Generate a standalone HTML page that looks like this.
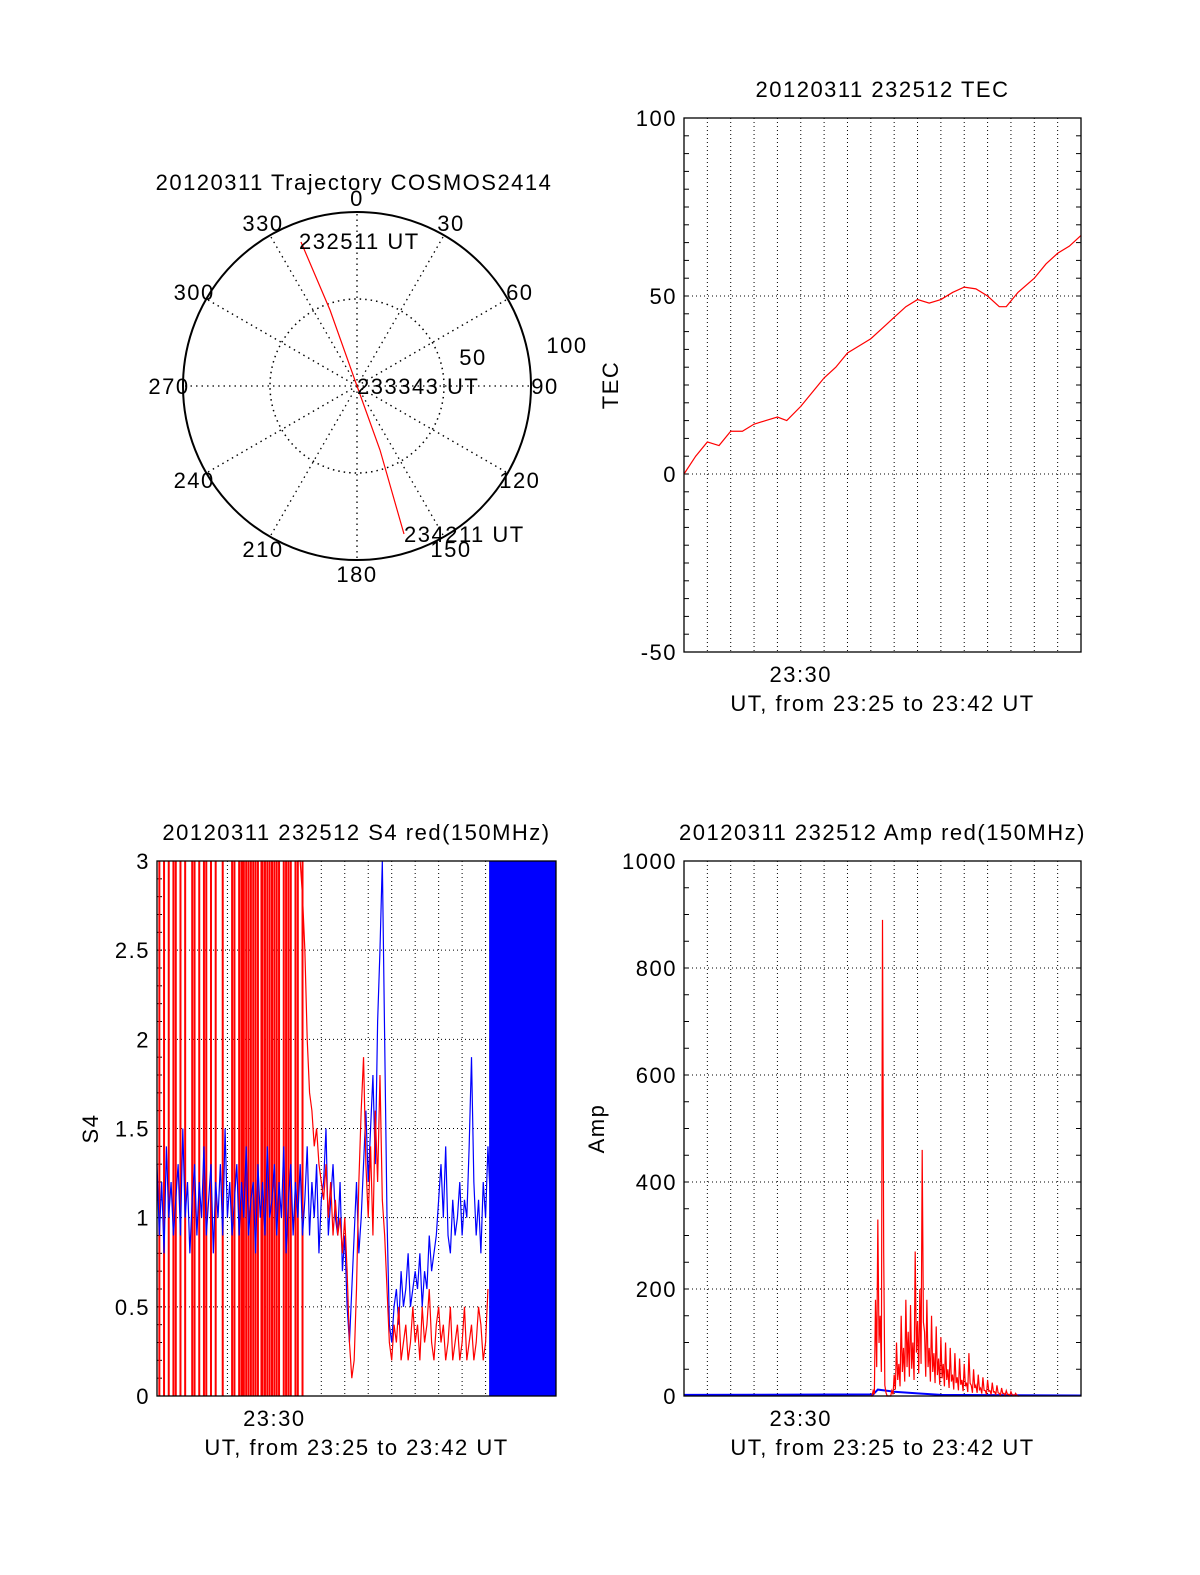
<!DOCTYPE html>
<html><head><meta charset="utf-8"><style>
html,body{margin:0;padding:0;background:#fff;overflow:hidden;width:1200px;height:1575px}
svg{display:block}
svg text{font-family:"Liberation Sans",sans-serif;fill:#000;letter-spacing:1.5px}
</style></head><body>
<svg id="fig" width="1200" height="1575" xmlns="http://www.w3.org/2000/svg">
<rect width="1200" height="1575" fill="#fff"/>
<g id="polar"></g>
<g id="tec"></g>
<g id="s4"></g>
<g id="amp"></g>
</svg>
<script>
// ---- data ----
const tecT=[0,0.5,1,1.5,2,2.5,3,3.5,4,4.4,5,5.5,6,6.5,7,7.5,8,8.5,9,9.5,10,10.5,11,11.5,12,12.5,13,13.5,13.8,14.3,15,15.5,16,16.5,17];
const tecV=[0,5,9,8,12,12,14,15,16,15,19,23,27,30,34,36,38,41,44,47,49,48,49,51,52.5,52,50,47,47,51,55,59,62,64,67];
const tecTicks=[-50,0,50,100];
const s4Ticks=[0,0.5,1,1.5,2,2.5,3];
const s4TickLabels=["0","0.5","1","1.5","2","2.5","3"];
const ampTicks=[0,200,400,600,800,1000];
const s4BlueStart=0, s4Step=0.1;
const s4Blue=[1.3,0.9,1.2,0.8,1.4,1.0,1.2,0.9,1.1,1.3,0.9,1.5,1.0,1.2,0.8,1.1,1.3,0.9,1.2,1.0,1.4,0.9,1.1,1.3,0.8,1.2,1.0,1.3,0.9,1.5,1.0,1.2,0.9,1.1,1.3,0.9,1.2,1.0,1.4,0.9,1.1,1.2,0.8,1.3,1.0,1.2,0.9,1.4,1.0,1.1,1.3,0.9,1.2,1.0,1.4,0.8,1.1,1.3,0.9,1.2,1.0,1.3,0.9,1.1,1.4,0.9,1.2,1.0,1.3,0.8,1.1,1.2,1.5,0.9,1.1,1.3,1.0,0.9,1.2,0.7,0.9,
0.5,0.3,0.6,0.9,1.2,0.8,1.0,1.3,1.6,1.2,
1.5,1.8,1.3,2.1,2.5,3.0,2.0,1.0,0.4,0.3,
0.5,0.6,0.4,0.7,0.5,0.6,0.8,0.5,0.6,0.7,
0.6,0.8,0.5,0.7,0.6,0.9,0.7,0.8,0.9,1.1,
1.3,1.0,1.4,0.9,0.8,1.1,0.9,1.0,1.2,0.9,
1.1,1.0,1.4,1.9,1.2,0.9,1.1,0.8,1.2,1.0,1.4,1.1];
const s4RedSpikes=[0.1,0.3,0.5,0.7,0.8,1.0,1.2,1.5,1.6,1.8,2.0,2.1,2.3,2.5,2.8,3.2,3.3,3.5,3.6,3.65,3.7,3.8,3.9,4.0,4.1,4.2,4.3,4.45,4.5,4.6,4.7,4.8,4.9,5.0,5.1,5.2,5.4,5.5,5.6,5.7,5.9,6.0,6.2];
const s4RedStart=6.0;
const s4Red=[3,3,2.8,2.5,2.0,1.7,1.6,1.4,1.5,1.3,1.2,1.1,1.3,1.0,1.2,0.9,1.1,0.9,1.0,0.8,1.0,0.7,0.3,0.1,0.2,0.6,1.2,1.6,1.9,1.3,1.0,1.4,0.9,1.6,1.2,1.8,1.1,0.9,0.6,0.3,0.2,0.4,0.3,0.5,0.2,0.3,0.4,0.2,0.3,0.5,0.3,0.4,0.2,0.5,0.3,0.4,0.6,0.3,0.2,0.4,0.5,0.3,0.4,0.2,0.3,0.5,0.2,0.3,0.4,0.2,0.3,0.5,0.2,0.3,0.4,0.2,0.3,0.5,0.4,0.2,0.3,0.6];
const s4BlueBand=[14.15,17];
const ampRedStart=8.0;
const ampRed=[0,10,180,330,150,890,20,0,0,10,40,100,60,150,90,180,120,170,100,270,140,200,460,120,180,90,150,80,130,70,110,60,100,50,90,40,80,35,70,30,60,25,80,20,50,20,40,15,35,10,30,10,25,8,20,5,15,5,10,3,8,2,5,0];
const ampBlueT=[0,8.1,8.3,9.0,10.0,11.0,17];
const ampBlueV=[2,3,12,8,5,2,1];

const NS="http://www.w3.org/2000/svg";
function el(parent,tag,attrs,name,txt){const e=document.createElementNS(NS,tag);for(const k in attrs)e.setAttribute(k,attrs[k]);


if(txt!==undefined)e.textContent=txt;parent.appendChild(e);return e;}

// ---- polar ----
(function(){
const g=document.getElementById('polar');const cx=357,cy=386,R=174;
el(g,'text',{x:354,y:190,'font-size':22,'text-anchor':'middle'},'polar-title','20120311 Trajectory COSMOS2414');
el(g,'circle',{cx,cy,r:R,fill:'none',stroke:'#000','stroke-width':2},'outer-circle');
el(g,'circle',{cx,cy,r:R/2,fill:'none',stroke:'#000','stroke-width':1.5,'stroke-dasharray':'1.5 4'},'inner-circle');
for(let a=0;a<360;a+=30){const r=a*Math.PI/180;
el(g,'line',{x1:cx,y1:cy,x2:cx+R*Math.sin(r),y2:cy-R*Math.cos(r),stroke:'#000','stroke-width':1.3,'stroke-dasharray':'1.5 4'},'spoke-'+a);
const lr=R+14;el(g,'text',{x:cx+lr*Math.sin(r),y:cy-lr*Math.cos(r)+8,'font-size':22,'text-anchor':'middle'},'azimuth-label-'+a,String(a));}
el(g,'text',{x:473,y:365,'font-size':22,'text-anchor':'middle'},'radius-label-50','50');
el(g,'text',{x:567,y:353,'font-size':22,'text-anchor':'middle'},'radius-label-100','100');
el(g,'polyline',{points:'301,242 330,310 357,386 380,450 404,534',fill:'none',stroke:'#f00','stroke-width':1.2},'trajectory-line');
el(g,'text',{x:299,y:249,'font-size':22},'start-time-label','232511 UT');
el(g,'text',{x:357,y:394,'font-size':22},'mid-time-label','233343 UT');
el(g,'text',{x:404,y:542,'font-size':22},'end-time-label','234211 UT');
})();

function axes(g,o){
const {x0,x1,y0,y1,ymin,ymax,ticks,labels,minor,title,ylabel,ylabx}=o;
const X=t=>x0+(x1-x0)*t/17, Y=v=>y1-(y1-y0)*(v-ymin)/(ymax-ymin);
for(let m=1;m<17;m++)el(g,'line',{x1:X(m),y1:y0,x2:X(m),y2:y1,stroke:'#000','stroke-width':1,'stroke-dasharray':'1 3'},'vgrid-'+m);
ticks.forEach((v,i)=>{if(v!==ymin&&v!==ymax)el(g,'line',{x1:x0,y1:Y(v),x2:x1,y2:Y(v),stroke:'#000','stroke-width':1,'stroke-dasharray':'1 3'},'hgrid');
el(g,'text',{x:x0-7,y:Y(v)+8,'font-size':22,'text-anchor':'end'},'y-tick-label',labels[i]);});
for(let v=ymin;v<=ymax+1e-9;v+=minor){el(g,'line',{x1:x0,y1:Y(v),x2:x0+5,y2:Y(v),stroke:'#000'},'y-minor-tick');el(g,'line',{x1:x1,y1:Y(v),x2:x1-5,y2:Y(v),stroke:'#000'},'y-minor-tick-right');}
el(g,'text',{x:(x0+x1)/2,y:y0-21,'font-size':22,'text-anchor':'middle'},'plot-title',title);
el(g,'text',{x:X(5),y:y1+30,'font-size':22,'text-anchor':'middle'},'x-tick-label','23:30');
el(g,'text',{x:(x0+x1)/2,y:y1+59,'font-size':22,'text-anchor':'middle'},'x-axis-title','UT, from 23:25 to 23:42 UT');
el(g,'text',{x:ylabx,y:(y0+y1)/2,'font-size':22,'text-anchor':'middle',transform:`rotate(-90 ${ylabx} ${(y0+y1)/2})`},'y-axis-title',ylabel);
return {X,Y};}
function frame(g,o){el(g,'rect',{x:o.x0,y:o.y0,width:o.x1-o.x0,height:o.y1-o.y0,fill:'none',stroke:'#000','stroke-width':1.3},'axes-frame');}

// ---- TEC ----
(function(){const g=document.getElementById('tec');
const o={x0:684,x1:1081,y0:118,y1:652,ymin:-50,ymax:100,ticks:tecTicks,labels:tecTicks.map(String),minor:5,title:'20120311 232512 TEC',ylabel:'TEC',ylabx:618};
const {X,Y}=axes(g,o);
el(g,'polyline',{points:tecT.map((t,i)=>X(t)+','+Y(tecV[i])).join(' '),fill:'none',stroke:'#f00','stroke-width':1.2},'tec-line');
frame(g,o);})();

// ---- S4 ----
(function(){const g=document.getElementById('s4');
const o={x0:157,x1:556,y0:861,y1:1396,ymin:0,ymax:3,ticks:s4Ticks,labels:s4TickLabels,minor:0.1,title:'20120311 232512 S4 red(150MHz)',ylabel:'S4',ylabx:98};
const {X,Y}=axes(g,o);
s4RedSpikes.forEach(t=>el(g,'line',{x1:X(t),y1:Y(0),x2:X(t),y2:Y(3),stroke:'#f00','stroke-width':2},'s4-red-spike'));
el(g,'polyline',{points:s4Blue.map((v,i)=>X(s4BlueStart+i*s4Step)+','+Y(Math.min(v,3))).join(' '),fill:'none',stroke:'#00f','stroke-width':1.2},'s4-blue-line');
el(g,'polyline',{points:s4Red.map((v,i)=>X(s4RedStart+i*s4Step)+','+Y(Math.min(v,3))).join(' '),fill:'none',stroke:'#f00','stroke-width':1.2},'s4-red-line');
el(g,'rect',{x:X(s4BlueBand[0]),y:Y(3),width:X(s4BlueBand[1])-X(s4BlueBand[0]),height:Y(0)-Y(3),fill:'#00f'},'s4-blue-band');
frame(g,o);})();

// ---- Amp ----
(function(){const g=document.getElementById('amp');
const o={x0:684,x1:1081,y0:861,y1:1396,ymin:0,ymax:1000,ticks:ampTicks,labels:ampTicks.map(String),minor:50,title:'20120311 232512 Amp red(150MHz)',ylabel:'Amp',ylabx:604};
const {X,Y}=axes(g,o);
el(g,'polyline',{points:ampBlueT.map((t,i)=>X(t)+','+Y(ampBlueV[i])).join(' '),fill:'none',stroke:'#00f','stroke-width':2},'amp-blue-line');
let pts=[];ampRed.forEach((v,i)=>{const x=X(ampRedStart+i*0.1);pts.push(x+','+Y(v));pts.push((x+1.2)+','+Y(v*0.3));});
el(g,'polyline',{points:pts.join(' '),fill:'none',stroke:'#f00','stroke-width':1.2},'amp-red-line');
frame(g,o);})();
</script>
</body></html>
